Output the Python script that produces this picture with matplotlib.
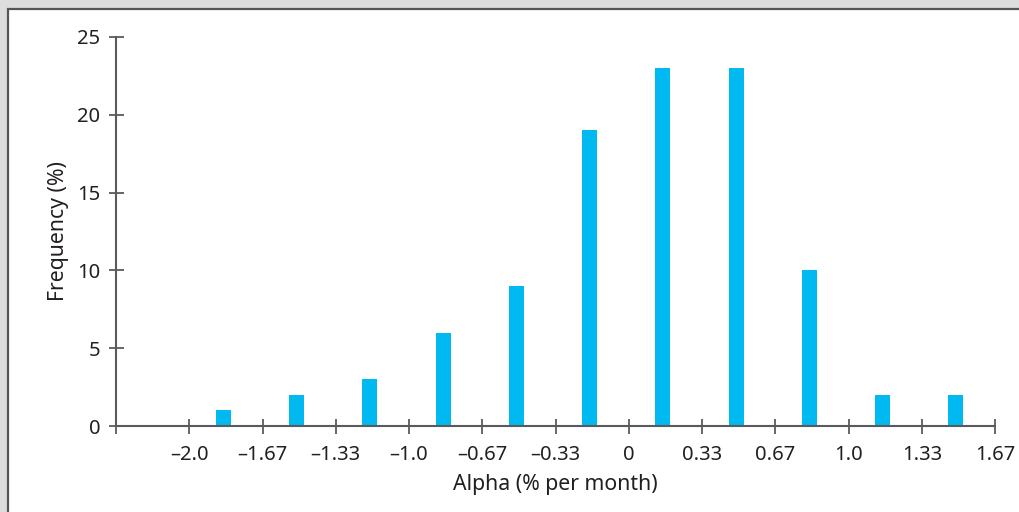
import matplotlib
matplotlib.use("Agg")
import matplotlib.pyplot as plt
from matplotlib.patches import Rectangle
import numpy as np

# Histogram of monthly alphas: bins are thirds of a percent
bin_lower_edges = [-6/3, -5/3, -4/3, -3/3, -2/3, -1/3, 0/3, 1/3, 2/3, 3/3, 4/3]
frequencies = [1, 2, 3, 6, 9, 19, 23, 23, 10, 2, 2]
tick_values = [-7/3, -6/3, -5/3, -4/3, -3/3, -2/3, -1/3, 0, 1/3, 2/3, 3/3, 4/3, 5/3]
tick_labels = ["", "\u20132.0", "\u20131.67", "\u20131.33", "\u20131.0", "\u20130.67",
               "\u20130.33", "0", "0.33", "0.67", "1.0", "1.33", "1.67"]
y_ticks = [0, 5, 10, 15, 20, 25]

BAR_COLOR = "#00b9f1"
AXIS_COLOR = "#5a5a5a"
TEXT_COLOR = "#231f20"

plt.rcParams["font.family"] = ["Noto Sans", "DejaVu Sans"]

W, H = 1019, 512
fig = plt.figure(figsize=(W / 100, H / 100), dpi=100)
fig.patch.set_facecolor("#dddddd")

# White panel with a dark frame on the top and left
panel = Rectangle((8 / W, -0.2), 1.2, (H - 9) / H + 0.2, transform=fig.transFigure,
                  facecolor="white", edgecolor="#555555", linewidth=1.6,
                  zorder=-10)
fig.patches.append(panel)

ax = fig.add_axes([116 / W, (H - 426) / H, (995 - 116) / W, (426 - 37) / H])
ax.set_facecolor("none")
ax.set_zorder(5)

bar_offset = 0.155
bar_width = 0.068
centers = np.array(bin_lower_edges) + bar_offset
ax.bar(centers, frequencies, width=bar_width, color=BAR_COLOR, zorder=2)

ax.set_xlim(tick_values[0], tick_values[-1])
ax.set_ylim(0, 25)

for side in ("top", "right"):
    ax.spines[side].set_visible(False)
for side in ("left", "bottom"):
    ax.spines[side].set_color(AXIS_COLOR)
    ax.spines[side].set_linewidth(1.5)
    ax.spines[side].set_zorder(3)

ax.set_xticks(tick_values)
ax.set_xticklabels(tick_labels)
ax.set_yticks(y_ticks)
ax.tick_params(axis="both", direction="inout", length=10.8, width=1.3,
               color=AXIS_COLOR, labelcolor=TEXT_COLOR, labelsize=14.5)
ax.tick_params(axis="x", pad=8)
ax.tick_params(axis="y", pad=6)

ax.set_xlabel("Alpha (% per month)", fontsize=15.3, color=TEXT_COLOR, labelpad=7)
ax.set_ylabel("Frequency (%)", fontsize=15.3, color=TEXT_COLOR, labelpad=6)

fig.savefig("out.png", dpi=100)
